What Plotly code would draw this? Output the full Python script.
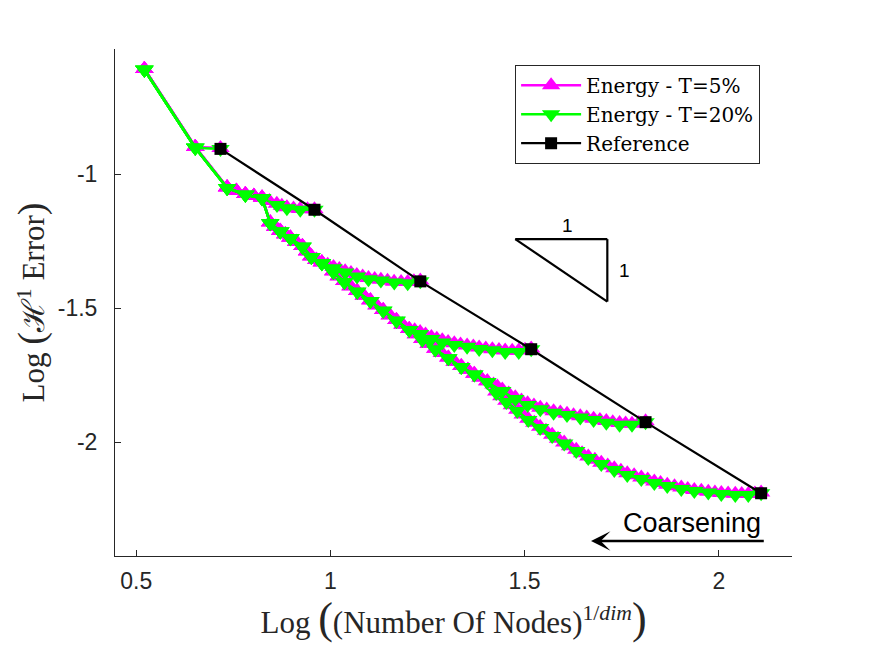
import plotly.graph_objects as go

# ---------------- data ----------------
# Reference (uniform meshes)
REF_X = [0.717, 0.959, 1.2315, 1.517, 1.8115, 2.109]
REF_Y = [-0.906, -1.133, -1.400, -1.653, -1.925, -2.190]

# Energy - T=20% : own part of each coarsening branch + shared paths
G_A_X = [0.717]
G_A_Y = [-0.906]
G_B_X = [0.959, 0.9225, 0.888, 0.8625]
G_B_Y = [-1.133, -1.133, -1.127, -1.115]
G_C_X = [1.2315, 1.199, 1.1645, 1.130, 1.098, 1.0685, 1.038, 1.008]
G_C_Y = [-1.400, -1.407, -1.4045, -1.397, -1.392, -1.382, -1.367, -1.351]
G_D_X = [1.517, 1.485, 1.450, 1.417, 1.383, 1.352, 1.319, 1.288, 1.260, 1.231]
G_D_Y = [-1.653, -1.663, -1.663, -1.657, -1.652, -1.644, -1.637, -1.628, -1.615, -1.596]
G_E_X = [1.8115, 1.7765, 1.7446, 1.7104, 1.6777, 1.6434, 1.6092, 1.5747, 1.5404, 1.5077, 1.4761, 1.4426]
G_E_Y = [-1.925, -1.935, -1.935, -1.927, -1.917, -1.908, -1.898, -1.890, -1.877, -1.861, -1.8385, -1.8086]
G_F_X = [2.109, 2.076, 2.0425, 2.0065, 1.973, 1.937, 1.9035, 1.8674, 1.834, 1.8005, 1.7644,
         1.731, 1.6975, 1.664, 1.633, 1.602, 1.571, 1.540, 1.5095, 1.481, 1.453, 1.427]
G_F_Y = [-2.190, -2.197, -2.197, -2.193, -2.187, -2.182, -2.174, -2.163, -2.152, -2.137, -2.122,
         -2.103, -2.081, -2.059, -2.0325, -2.0045, -1.9765, -1.9466, -1.917, -1.883, -1.850, -1.816]
G_ENV_X = [1.404, 1.3705, 1.337, 1.3036, 1.270, 1.2366, 1.203, 1.170, 1.136, 1.103, 1.069, 1.036, 1.0075]
G_ENV_Y = [-1.775, -1.747, -1.719, -1.687, -1.654, -1.618, -1.581, -1.547, -1.510, -1.473, -1.439, -1.402, -1.365]
G_TAIL_X = [0.978, 0.951, 0.928, 0.897, 0.871, 0.845, 0.824, 0.781, 0.734, 0.652, 0.521]
G_TAIL_Y = [-1.332, -1.309, -1.271, -1.239, -1.214, -1.183, -1.090, -1.077, -1.052, -0.902, -0.611]

# Energy - T=5%
M_A_X = [0.717]
M_A_Y = [-0.903]
M_B_X = [0.959, 0.941, 0.922, 0.905, 0.888, 0.875, 0.862, 0.843]
M_B_Y = [-1.131, -1.131, -1.130, -1.128, -1.124, -1.118, -1.111, -1.100]
M_C_X = [1.2315, 1.215, 1.199, 1.182, 1.164, 1.147, 1.130, 1.114, 1.098, 1.083, 1.068, 1.053,
         1.038, 1.023, 1.008, 0.993]
M_C_Y = [-1.397, -1.400, -1.402, -1.402, -1.401, -1.398, -1.394, -1.391, -1.387, -1.382, -1.376,
         -1.369, -1.362, -1.354, -1.346, -1.338]
M_D_X = [1.517, 1.501, 1.485, 1.468, 1.450, 1.434, 1.417, 1.400, 1.383, 1.368, 1.352, 1.335,
         1.319, 1.303, 1.288, 1.274, 1.260, 1.245, 1.231, 1.217]
M_D_Y = [-1.650, -1.655, -1.658, -1.659, -1.658, -1.656, -1.653, -1.650, -1.647, -1.643, -1.639,
         -1.635, -1.631, -1.626, -1.620, -1.614, -1.607, -1.598, -1.589, -1.582]
M_E_X = [1.8115, 1.794, 1.7765, 1.760, 1.7446, 1.727, 1.7104, 1.694, 1.6777, 1.660, 1.6434, 1.626,
         1.6092, 1.592, 1.5747, 1.557, 1.5404, 1.524, 1.5077, 1.492, 1.4761, 1.459, 1.4426, 1.430]
M_E_Y = [-1.922, -1.928, -1.931, -1.930, -1.928, -1.925, -1.921, -1.917, -1.912, -1.908, -1.903,
         -1.899, -1.894, -1.889, -1.884, -1.878, -1.871, -1.863, -1.854, -1.844, -1.832, -1.818,
         -1.803, -1.792]
M_F_X = [2.109, 2.093, 2.076, 2.059, 2.0425, 2.024, 2.0065, 1.990, 1.973, 1.955, 1.937, 1.920,
         1.9035, 1.886, 1.8674, 1.850, 1.834, 1.817, 1.8005, 1.782, 1.7644, 1.748, 1.731, 1.714,
         1.6975, 1.681, 1.664, 1.648, 1.633, 1.617, 1.602, 1.586, 1.571, 1.555, 1.540, 1.525,
         1.5095, 1.495, 1.481, 1.467, 1.453, 1.440, 1.427]
M_F_Y = [-2.187, -2.191, -2.193, -2.193, -2.192, -2.191, -2.189, -2.187, -2.184, -2.181, -2.178,
         -2.174, -2.169, -2.164, -2.158, -2.152, -2.146, -2.139, -2.131, -2.123, -2.115, -2.106,
         -2.097, -2.087, -2.076, -2.065, -2.053, -2.041, -2.028, -2.015, -2.001, -1.987, -1.972,
         -1.957, -1.942, -1.927, -1.912, -1.896, -1.879, -1.862, -1.845, -1.828, -1.811]
M_ENV_X = [1.420, 1.404, 1.387, 1.3705, 1.354, 1.337, 1.320, 1.3036, 1.287, 1.270, 1.253, 1.2366,
           1.220, 1.203, 1.186, 1.170, 1.153, 1.136, 1.119, 1.103, 1.086, 1.069, 1.052, 1.036,
           1.0215, 1.0075]
M_ENV_Y = [-1.785, -1.772, -1.758, -1.744, -1.730, -1.716, -1.700, -1.684, -1.667, -1.651, -1.633,
           -1.615, -1.597, -1.578, -1.561, -1.544, -1.526, -1.507, -1.489, -1.470, -1.453, -1.436,
           -1.418, -1.399, -1.381, -1.362]
M_TAIL_X = [0.978, 0.964, 0.951, 0.940, 0.928, 0.912, 0.897, 0.884, 0.871, 0.858, 0.845, 0.824,
            0.803, 0.781, 0.758, 0.734, 0.652, 0.521]
M_TAIL_Y = [-1.329, -1.319, -1.306, -1.288, -1.268, -1.252, -1.236, -1.224, -1.211, -1.196, -1.180,
            -1.087, -1.081, -1.074, -1.062, -1.049, -0.899, -0.608]

X_TICKS = [0.5, 1, 1.5, 2]
X_TICK_TEXT = ["0.5", "1", "1.5", "2"]
Y_TICKS = [-2, -1.5, -1]
Y_TICK_TEXT = ["-2", "-1.5", "-1"]

# ---------------- branch assembly ----------------
G_BRANCHES = [
    (G_A_X + G_TAIL_X[9:], G_A_Y + G_TAIL_Y[9:]),
    (G_B_X + G_TAIL_X[6:], G_B_Y + G_TAIL_Y[6:]),
    (G_C_X + G_TAIL_X, G_C_Y + G_TAIL_Y),
    (G_D_X + G_ENV_X[6:] + G_TAIL_X, G_D_Y + G_ENV_Y[6:] + G_TAIL_Y),
    (G_E_X + G_ENV_X + G_TAIL_X, G_E_Y + G_ENV_Y + G_TAIL_Y),
    (G_F_X + G_ENV_X + G_TAIL_X, G_F_Y + G_ENV_Y + G_TAIL_Y),
]
M_BRANCHES = [
    (M_A_X + M_TAIL_X[16:], M_A_Y + M_TAIL_Y[16:]),
    (M_B_X + M_TAIL_X[11:], M_B_Y + M_TAIL_Y[11:]),
    (M_C_X + M_TAIL_X, M_C_Y + M_TAIL_Y),
    (M_D_X + M_ENV_X[13:] + M_TAIL_X, M_D_Y + M_ENV_Y[13:] + M_TAIL_Y),
    (M_E_X + M_ENV_X[1:] + M_TAIL_X, M_E_Y + M_ENV_Y[1:] + M_TAIL_Y),
    (M_F_X + M_ENV_X + M_TAIL_X, M_F_Y + M_ENV_Y + M_TAIL_Y),
]


def join(branches):
    xs, ys = [], []
    for bx, by in branches:
        if xs:
            xs.append(None)
            ys.append(None)
        xs += bx
        ys += by
    return xs, ys


mx, my = join(M_BRANCHES)
gx, gy = join(G_BRANCHES)

AX = "#262626"
SERIF = "Liberation Serif, Times New Roman, serif"
LEG_SERIF = "DejaVu Serif, serif"
SANS = "Liberation Sans, Arial, Helvetica, sans-serif"

fig = go.Figure()
fig.add_trace(go.Scatter(
    x=mx, y=my, mode="lines+markers", name="Energy - T=5%",
    line=dict(color="#ff00ff", width=2.5),
    marker=dict(symbol="triangle-up", size=16, color="#ff00ff"),
))
fig.add_trace(go.Scatter(
    x=gx, y=gy, mode="lines+markers", name="Energy - T=20%",
    line=dict(color="#00ff00", width=2.5),
    marker=dict(symbol="triangle-down", size=16, color="#00ff00"),
))
fig.add_trace(go.Scatter(
    x=REF_X, y=REF_Y, mode="lines+markers", name="Reference",
    line=dict(color="black", width=2.2),
    marker=dict(symbol="square", size=12, color="black"),
))

# slope triangle
TRI_X0, TRI_X1 = 1.476, 1.713
TRI_Y0, TRI_Y1 = -1.2425, -1.4754
for (a, b, c, d) in [(TRI_X0, TRI_Y0, TRI_X1, TRI_Y0),
                     (TRI_X1, TRI_Y0, TRI_X1, TRI_Y1),
                     (TRI_X0, TRI_Y0, TRI_X1, TRI_Y1)]:
    fig.add_shape(type="line", x0=a, y0=b, x1=c, y1=d, xref="x", yref="y",
                  line=dict(color="black", width=2.2))

fig.add_annotation(x=1.610, y=-1.193, xref="x", yref="y", text="1", showarrow=False,
                   font=dict(family=SANS, size=19, color="black"))
fig.add_annotation(x=1.757, y=-1.361, xref="x", yref="y", text="1", showarrow=False,
                   font=dict(family=SANS, size=19, color="black"))

# coarsening arrow
fig.add_annotation(x=1.671, y=-2.368, ax=2.1197, ay=-2.368, xref="x", yref="y",
                   axref="x", ayref="y", text="", showarrow=True, arrowhead=3,
                   arrowsize=1.3, arrowwidth=2.5, arrowcolor="black")
fig.add_annotation(x=1.931, y=-2.300, xref="x", yref="y", text="Coarsening", showarrow=False,
                   font=dict(family=SANS, size=27, color="black"))

fig.update_layout(
    width=875, height=656,
    margin=dict(l=115, r=83, t=49, b=100),
    plot_bgcolor="white", paper_bgcolor="white",
    showlegend=True,
    legend=dict(x=0.591, y=0.969, xanchor="left", yanchor="top",
                bordercolor=AX, borderwidth=1, bgcolor="white",
                font=dict(family=LEG_SERIF, size=20, color="black"),
                itemwidth=60, tracegroupgap=0),
    xaxis=dict(range=[0.4454, 2.1885], tickvals=X_TICKS, ticktext=X_TICK_TEXT,
               ticks="inside", ticklen=6, tickcolor=AX, showline=True, linecolor=AX,
               linewidth=1, showgrid=False, zeroline=False, mirror=False,
               ticklabelstandoff=4,
               tickfont=dict(family=SANS, size=23, color=AX),
               title=dict(text='Log <span style="font-size:44px">(</span>(Number Of Nodes)'
                               '<sup>1/<i>dim</i></sup><span style="font-size:44px">)</span>',
                          font=dict(family=SERIF, size=31, color=AX), standoff=10)),
    yaxis=dict(range=[-2.424, -0.5336], tickvals=Y_TICKS, ticktext=Y_TICK_TEXT,
               ticks="inside", ticklen=6, tickcolor=AX, showline=True, linecolor=AX,
               linewidth=1, showgrid=False, zeroline=False, mirror=False,
               ticklabelstandoff=12,
               tickfont=dict(family=SANS, size=23, color=AX),
               title=dict(text='Log <span style="font-size:38px">(</span>\u210b<sup>1</sup> Error'
                               '<span style="font-size:38px">)</span>',
                          font=dict(family=SERIF, size=31, color=AX), standoff=3)),
)

fig.write_html("out.html", config={"displayModeBar": False},
               post_script="document.body.style.margin='0';")
